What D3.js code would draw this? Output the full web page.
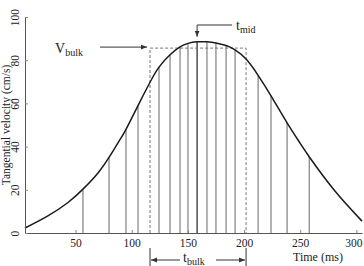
<!DOCTYPE html>
<html>
<head>
<meta charset="utf-8">
<script src="https://cdn.jsdelivr.net/npm/d3@7"></script>
<style>
  body { margin: 0; background: #fff; }
  svg text { font-family: "Liberation Serif", "DejaVu Serif", serif; fill: #222; }
</style>
</head>
<body>
<div id="svg"></div>
<script>
// curve (time in ms, velocity in cm/s)
const curveTime = [5, 25, 43, 56.6, 70, 79.8, 87.5, 94.9, 105.6, 116.3, 124.3, 134.1, 143, 150.1, 158.2, 167, 175, 184, 192, 201.8, 212.5, 224, 238.3, 250, 258, 280, 305];
const curveVel  = [2.3, 7.8, 14, 20.3, 27.8, 35, 41.5, 48, 59, 69.8, 76.8, 82.5, 86.2, 87.8, 88.5, 88.5, 88, 86.8, 84.8, 80.5, 73, 63.5, 51, 41.5, 35.3, 20, 5.5];

// sample lines under the curve
const sampleTime = [56.6, 79.8, 94.9, 105.6, 124.3, 134.1, 143, 150.1, 158.2, 167, 175, 184, 192, 212.5, 224, 238.3, 258];
const sampleVel  = [20.3, 35, 48, 59, 76.8, 82.5, 86.2, 87.8, 88.5, 88.5, 88, 86.8, 84.8, 73, 63.5, 51, 35.3];

const bulkStart = 116.3, bulkEnd = 201.8, vBulk = 85.6, tMid = 158.2;

const xTicks = [50, 100, 150, 200, 250, 300];
const yTicks = [0, 20, 40, 60, 80, 100];

const width = 364, height = 266,
    margin = { top: 17, right: 2, bottom: 33, left: 25 };

const svg = d3.select("#svg").append("svg")
    .attr("width", width)
    .attr("height", height);

const x = d3.scaleLinear().domain([5, 305]).range([margin.left, width - margin.right]);
const y = d3.scaleLinear().domain([0, 100]).range([height - margin.bottom, margin.top]);

// arrow head
svg.append("defs").append("marker")
    .attr("id", "head")
    .attr("viewBox", "0 0 10 10")
    .attr("refX", 10).attr("refY", 5)
    .attr("markerWidth", 6).attr("markerHeight", 6)
    .attr("markerUnits", "userSpaceOnUse")
    .attr("orient", "auto")
  .append("path")
    .attr("d", "M0,1L10,5L0,9Z")
    .attr("fill", "#333");

// sample lines
svg.append("g")
    .selectAll("line")
    .data(sampleTime)
    .join("line")
    .attr("x1", d => x(d)).attr("x2", d => x(d))
    .attr("y1", y(0))
    .attr("y2", (d, i) => y(sampleVel[i]))
    .attr("stroke", d => d === tMid ? "#333" : "#666")
    .attr("stroke-width", d => d === tMid ? 1.3 : 1);

// bulk dashed box
svg.append("path")
    .attr("d", `M${x(bulkStart)},${y(0)}V${y(vBulk)}H${x(bulkEnd)}V${y(0)}`)
    .attr("fill", "none")
    .attr("stroke", "#777")
    .attr("stroke-width", 1)
    .attr("stroke-dasharray", "3,2");

// velocity curve
const line = d3.line()
    .x((d, i) => x(curveTime[i]))
    .y(d => y(d))
    .curve(d3.curveNatural);

svg.append("path")
    .datum(curveVel)
    .attr("d", line)
    .attr("fill", "none")
    .attr("stroke", "#1a1a1a")
    .attr("stroke-width", 1.5);

// axes
const xAxis = svg.append("g")
    .attr("transform", `translate(0,${y(0)})`)
    .call(d3.axisBottom(x).tickValues(xTicks).tickSizeInner(-3).tickSizeOuter(0).tickPadding(6));

const yAxis = svg.append("g")
    .attr("transform", `translate(${margin.left},0)`)
    .call(d3.axisLeft(y).tickValues(yTicks).tickSizeInner(-3).tickSizeOuter(0));

[xAxis, yAxis].forEach(g => {
    g.select(".domain").attr("stroke", "#555");
    g.selectAll(".tick line").attr("stroke", "#888");
    g.selectAll("text").attr("font-size", 11.5).attr("font-family", "Liberation Serif").attr("fill", "#222");
});

xAxis.selectAll(".tick text").filter(d => d === 300).attr("dx", -3);

yAxis.selectAll(".tick text")
    .attr("transform", "rotate(-90)")
    .attr("x", 0)
    .attr("y", -6)
    .attr("dy", 0)
    .attr("text-anchor", "middle");

// axis titles
svg.append("text")
    .attr("transform", `translate(10,${(y(0) + y(100)) / 2}) rotate(-90)`)
    .attr("text-anchor", "middle")
    .attr("font-size", 11.5)
    .text("Tangential velocity (cm/s)");

svg.append("text")
    .attr("x", 318).attr("y", 261)
    .attr("text-anchor", "middle")
    .attr("font-size", 12)
    .text("Time (ms)");

// V_bulk label + arrow
const vb = svg.append("text").attr("x", 55).attr("y", y(vBulk) + 5).attr("font-size", 14);
vb.append("tspan").text("V");
vb.append("tspan").attr("font-size", 10).attr("dy", 3).text("bulk");

svg.append("line")
    .attr("x1", 100).attr("x2", x(bulkStart) - 3)
    .attr("y1", y(vBulk) - 1).attr("y2", y(vBulk) - 1)
    .attr("stroke", "#333")
    .attr("marker-end", "url(#head)");

// t_mid label + arrow
const tm = svg.append("text").attr("x", 236).attr("y", 30).attr("font-size", 14);
tm.append("tspan").text("t");
tm.append("tspan").attr("font-size", 10).attr("dy", 3).text("mid");

svg.append("path")
    .attr("d", `M232,25H${x(tMid)}V${y(88.5) - 5}`)
    .attr("fill", "none")
    .attr("stroke", "#333")
    .attr("marker-end", "url(#head)");

// t_bulk span below axis
const yb = 260;
[bulkStart, bulkEnd].forEach(t => {
    svg.append("line")
        .attr("x1", x(t)).attr("x2", x(t))
        .attr("y1", 248).attr("y2", 266)
        .attr("stroke", "#333");
});
const midX = (x(bulkStart) + x(bulkEnd)) / 2;
svg.append("line")
    .attr("x1", midX - 18).attr("x2", x(bulkStart) + 1)
    .attr("y1", yb).attr("y2", yb)
    .attr("stroke", "#333")
    .attr("marker-end", "url(#head)");
svg.append("line")
    .attr("x1", midX + 18).attr("x2", x(bulkEnd) - 1)
    .attr("y1", yb).attr("y2", yb)
    .attr("stroke", "#333")
    .attr("marker-end", "url(#head)");

const tb = svg.append("text").attr("x", midX - 15).attr("y", yb + 2).attr("font-size", 14);
tb.append("tspan").text("t");
tb.append("tspan").attr("font-size", 10).attr("dy", 3).text("bulk");
</script>
</body>
</html>
